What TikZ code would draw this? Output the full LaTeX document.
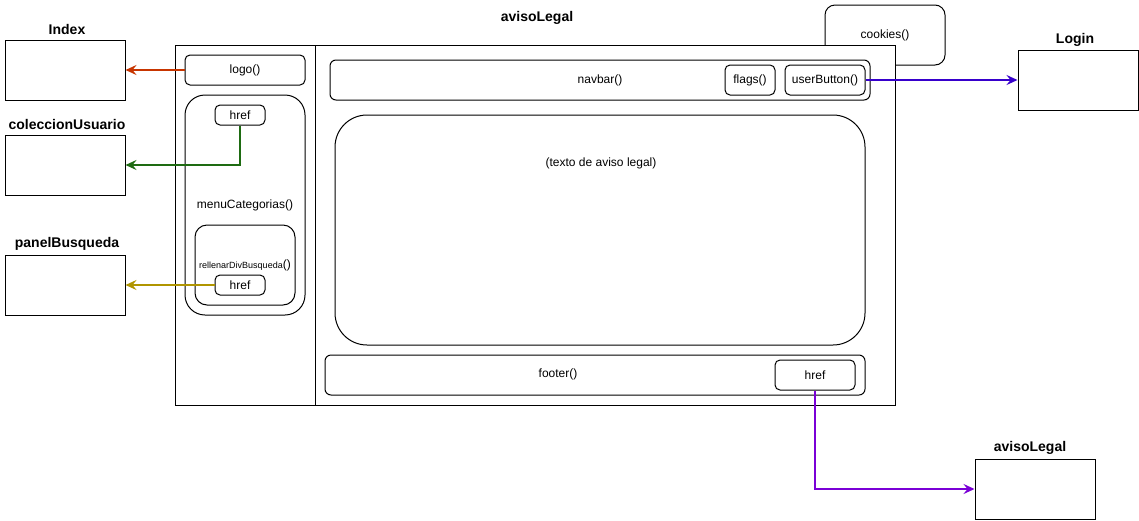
\documentclass[tikz,border=0pt]{standalone}
\usepackage{fontspec}
\setmainfont{Liberation Sans}
\usepackage{tikz}
\usetikzlibrary{arrows.meta}
\definecolor{logocol}{HTML}{C73500}
\definecolor{colecol}{HTML}{1E6B12}
\definecolor{busqcol}{HTML}{B09500}
\definecolor{logincol}{HTML}{3700CC}
\definecolor{avisocol}{HTML}{7A00D6}
\tikzstyle{page} = [rectangle, minimum width=120pt, minimum height=60pt, inner sep=0pt, draw=black, line width=1pt, fill=white]
\tikzstyle{title} = [font=\fontsize{14}{16}\selectfont\bfseries, inner sep=0pt]
\tikzstyle{func} = [rectangle, rounded corners=5pt, inner sep=0pt, draw=black, line width=1pt, fill=white, font=\fontsize{12}{14}\selectfont, text centered]
\tikzstyle{txt} = [inner sep=0pt, font=\fontsize{12}{14}\selectfont]
\tikzstyle{arrow} = [line width=2pt, -{Stealth[length=11pt, width=10pt, inset=4pt]}]

\begin{document}
\begin{tikzpicture}[x=1pt, y=-1pt]
	\useasboundingbox (0,0) rectangle (1139,520);

		% Draw the nodes
		\node (index) [page] at (65,70) {};
		\node (indextit) [title] at (67,29) {Index};
		\node (cole) [page] at (65,165) {};
		\node (coletit) [title] at (67,124) {coleccionUsuario};
		\node (panel) [page] at (65,285) {};
		\node (paneltit) [title] at (67,244) {panelBusqueda};
		\node (login) [page] at (1078,80) {};
		\node (logintit) [title] at (1075,40) {Login};
		\node (aviso) [page] at (1035,489) {};
		\node (avisotit) [title] at (1030,448) {avisoLegal};
		\node (cookies) [func, rounded corners=10pt, minimum width=120pt, minimum height=60pt] at (885,35) {cookies()};
		\node (main) [page, minimum width=720pt, minimum height=360pt] at (535,225) {};
		\node (maintit) [title] at (537,18) {avisoLegal};
		\draw [line width=1pt] (315,45) -- (315,405);
		\node (logo) [func, minimum width=120pt, minimum height=30pt] at (245,70) {logo()};
		\node (menu) [func, rounded corners=20pt, minimum width=120pt, minimum height=220pt] at (245,205) {menuCategorias()};
		\node (hrefmenu) [func, minimum width=50pt, minimum height=20pt] at (240,115) {href};
		\node (rellenar) [func, rounded corners=12pt, minimum width=100pt, minimum height=80pt] at (245,265) {{\fontsize{9}{10}\selectfont rellenarDivBusqueda}()};
		\node (hrefbusq) [func, minimum width=50pt, minimum height=20pt] at (240,285) {href};
		\node (navbar) [func, rounded corners=6pt, minimum width=540pt, minimum height=40pt] at (600,80) {navbar()};
		\node (flags) [func, minimum width=50pt, minimum height=30pt] at (750,80) {flags()};
		\node (userbtn) [func, minimum width=80pt, minimum height=30pt] at (825,80) {userButton()};
		\node (area) [func, rounded corners=32pt, minimum width=530pt, minimum height=230pt] at (600,230) {};
		\node (areatxt) [txt] at (601,163) {(texto de aviso legal)};
		\node (footer) [func, rounded corners=6pt, minimum width=540pt, minimum height=40pt] at (595,375) {};
		\node (footertxt) [txt] at (558,374) {footer()};
		\node (hreffoot) [func, minimum width=80pt, minimum height=30pt] at (815,375) {href};

		%Draw the arrows
		\draw [arrow, logocol] (logo) -- (index);
		\draw [arrow, colecol] (hrefmenu) |- (cole);
		\draw [arrow, busqcol] (hrefbusq) -- (panel);
		\draw [arrow, logincol] (userbtn) -- (login);
		\draw [arrow, avisocol] (hreffoot) |- (aviso);

	\end{tikzpicture}
\end{document}
